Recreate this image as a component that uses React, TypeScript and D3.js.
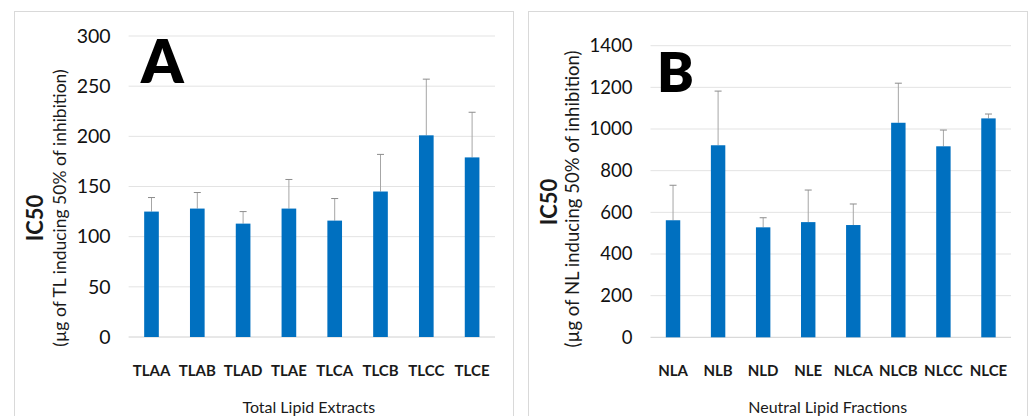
import React from "react";
import * as d3 from "d3";

// Panel A - Total Lipid Extracts
const catsA = ["TLAA", "TLAB", "TLAD", "TLAE", "TLCA", "TLCB", "TLCC", "TLCE"];
const meanA = [125, 128, 113, 128, 116, 145, 201, 179];
const upperA = [139, 144, 125, 157, 138, 182, 257, 224];
const ticksA = [0, 50, 100, 150, 200, 250, 300];

// Panel B - Neutral Lipid Fractions
const catsB = ["NLA", "NLB", "NLD", "NLE", "NLCA", "NLCB", "NLCC", "NLCE"];
const meanB = [562, 922, 528, 553, 539, 1030, 917, 1051];
const upperB = [730, 1182, 574, 707, 640, 1220, 995, 1072];
const ticksB = [0, 200, 400, 600, 800, 1000, 1200, 1400];

const FONT = "Lato, 'Open Sans', sans-serif";
const BLUE = "#0070C0";

type PanelProps = {
  left: number;
  letter: string;
  cats: string[];
  means: number[];
  uppers: number[];
  ticks: number[];
  x0: number;
  x1: number;
  yTop: number;
  yBottom: number;
  tickSize: number;
  xTitle: string;
  yTitle: string;
  titleSize: number;
  letterSize: number;
  letterX: number;
  letterY: number;
  icx: number;
  icy: number;
  subx: number;
  suby: number;
};

const Panel = (p: PanelProps) => {
  const x = d3
    .scaleBand()
    .domain(p.cats)
    .range([p.x0, p.x1])
    .paddingInner(0.68)
    .paddingOuter(0.34);
  const y = d3
    .scaleLinear()
    .domain([0, p.ticks[p.ticks.length - 1]])
    .range([p.yBottom, p.yTop]);
  const bw = x.bandwidth();

  return (
    <g>
      <rect
        x={p.left + 0.5}
        y={11.5}
        width={499}
        height={420}
        fill="#fff"
        stroke="#d9d9d9"
      />
      {p.ticks.map((t) => (
        <g key={t}>
          <line
            x1={p.x0}
            x2={p.x1}
            y1={y(t)}
            y2={y(t)}
            stroke={t === 0 ? "#d0d0d0" : "#e3e3e3"}
            strokeWidth={1}
          />
          <text
            x={p.x0 - 18}
            y={y(t)}
            dy="0.35em"
            textAnchor="end"
            fontSize={p.tickSize}
            fontFamily={FONT}
            fill="#111"
          >
            {t}
          </text>
        </g>
      ))}
      {p.cats.map((c, i) => {
        const cx = (x(c) as number) + bw / 2;
        return (
          <g key={c}>
            <line
              x1={cx}
              x2={cx}
              y1={y(p.means[i])}
              y2={y(p.uppers[i])}
              stroke="#a6a6a6"
              strokeWidth={1}
            />
            <line
              x1={cx - 3.5}
              x2={cx + 3.5}
              y1={y(p.uppers[i])}
              y2={y(p.uppers[i])}
              stroke="#8c8c8c"
              strokeWidth={1}
            />
            <rect
              x={x(c)}
              y={y(p.means[i])}
              width={bw}
              height={y(0) - y(p.means[i])}
              fill={BLUE}
            />
            <text
              x={cx}
              y={371}
              dy="0.35em"
              textAnchor="middle"
              fontSize={15}
              fontWeight={700}
              fontFamily={FONT}
              fill="#1a1a1a"
            >
              {c}
            </text>
          </g>
        );
      })}
      <text
        x={(p.x0 + p.x1) / 2 - 3}
        y={407}
        dy="0.35em"
        textAnchor="middle"
        fontSize={16}
        fontFamily={FONT}
        fill="#1a1a1a"
      >
        {p.xTitle}
      </text>
      <text
        transform={`translate(${p.icx},${p.icy}) rotate(-90)`}
        dy="0.35em"
        textAnchor="middle"
        fontSize={22}
        fontWeight={700}
        fontFamily={FONT}
        fill="#1a1a1a"
      >
        IC50
      </text>
      <text
        transform={`translate(${p.subx},${p.suby}) rotate(-90)`}
        dy="0.35em"
        textAnchor="middle"
        fontSize={p.titleSize}
        fontFamily={FONT}
        fill="#1a1a1a"
      >
        {p.yTitle}
      </text>
      <text
        x={p.letterX}
        y={p.letterY}
        fontSize={p.letterSize}
        fontWeight={800}
        fontFamily={FONT}
        fill="#000"
      >
        {p.letter}
      </text>
    </g>
  );
};

export default function App() {
  return (
    <svg
      width={1028}
      height={416}
      style={{ position: "absolute", left: 0, top: 0, background: "#fff" }}
    >
      <Panel
        left={14}
        letter="A"
        cats={catsA}
        means={meanA}
        uppers={upperA}
        ticks={ticksA}
        x0={128.6}
        x1={495}
        yTop={36}
        yBottom={337}
        tickSize={19.5}
        xTitle="Total Lipid Extracts"
        yTitle="(µg of TL inducing 50% of inhibition)"
        titleSize={17.5}
        letterSize={60}
        letterX={141}
        letterY={83}
        icx={35}
        icy={218}
        subx={60}
        suby={208}
      />
      <Panel
        left={528}
        letter="B"
        cats={catsB}
        means={meanB}
        uppers={upperB}
        ticks={ticksB}
        x0={650.5}
        x1={1011}
        yTop={45.7}
        yBottom={337.3}
        tickSize={18.5}
        xTitle="Neutral Lipid Fractions"
        yTitle="(µg of NL inducing 50% of inhibition)"
        titleSize={18.5}
        letterSize={55}
        letterX={657}
        letterY={92}
        icx={549}
        icy={202}
        subx={573}
        suby={199}
      />
    </svg>
  );
}
